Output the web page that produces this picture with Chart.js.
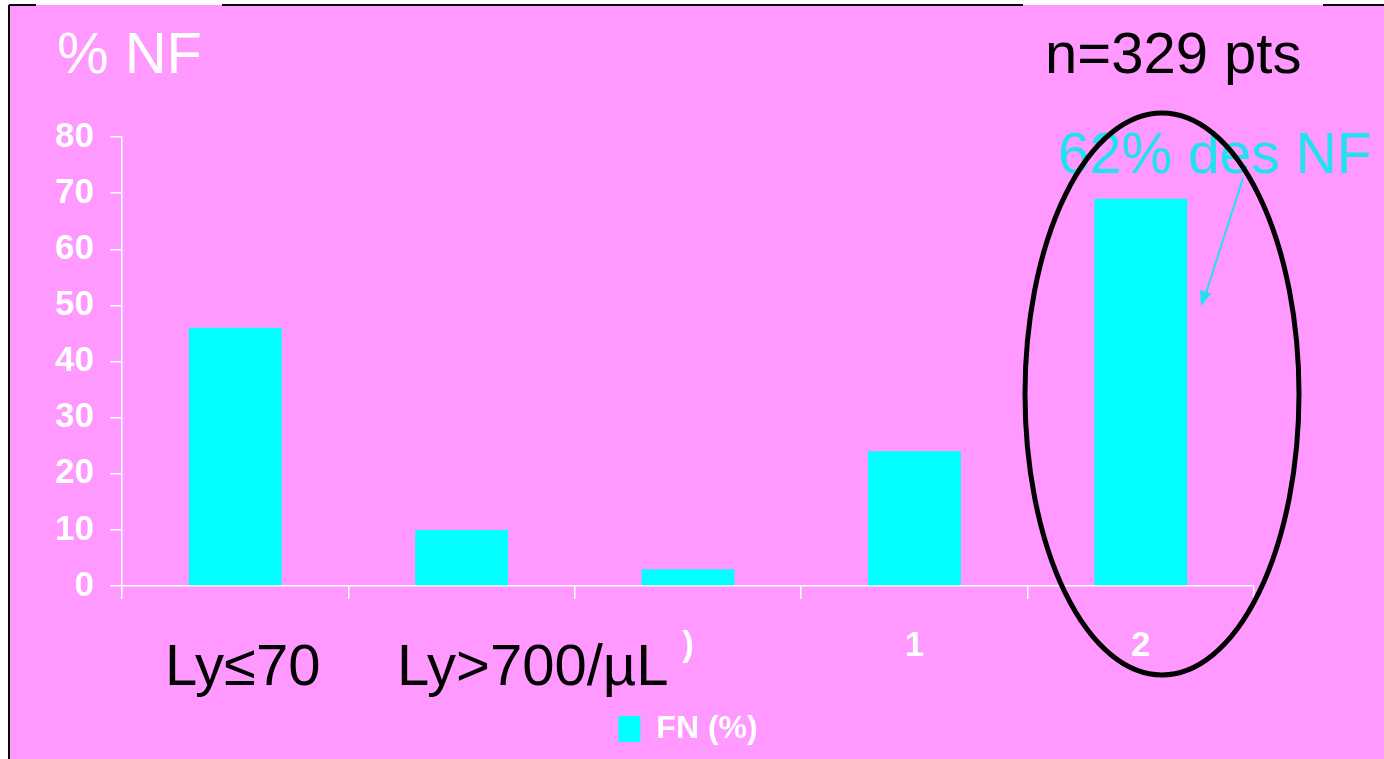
<!DOCTYPE html>
<html>
<head>
<meta charset="utf-8">
<script src="https://cdn.jsdelivr.net/npm/chart.js@4.4.1/dist/chart.umd.min.js"></script>
<style>
html, body { margin: 0; padding: 0; background: #fff; }
#wrap { width: 1384px; height: 759px; position: relative; }
</style>
</head>
<body>
<div id="wrap"><canvas id="chartNF"></canvas></div>
<script>
// donnees du graphique
const categories = ['', '', ')', '1', '2'];
const fnValues = [46, 10, 3, 24, 69];
const seriesName = 'FN (%)';
const yMin = 0;
const yMax = 80;
const yStep = 10;
const groupLabels = ['Ly\u226470', 'Ly>700/\u00b5L'];

const boldFont = "'Liberation Sans Narrow', 'Liberation Sans', Arial, sans-serif";
const plain = "'Liberation Sans', Arial, sans-serif";

Chart.defaults.maintainAspectRatio = false;
Chart.defaults.responsive = true;
Chart.defaults.animation = false;

// fond rose, cadre, textes et ellipse
const decor = {
    id: 'decor',
    beforeDraw(chart) {
        const c = chart.ctx;
        c.save();
        c.fillStyle = '#ffffff';
        c.fillRect(0, 0, chart.width, chart.height);
        c.fillStyle = '#ff99ff';
        c.fillRect(9, 5, chart.width - 9, chart.height - 5);
        c.strokeStyle = '#000';
        c.lineWidth = 2;
        c.beginPath();
        c.moveTo(9, 5);
        c.lineTo(9, chart.height);
        [[9, 36], [222, 1023], [1323, 1384]].forEach(([a, b]) => {
            c.moveTo(a, 5);
            c.lineTo(b, 5);
        });
        c.stroke();
        c.restore();
    },
    afterDraw(chart) {
        const c = chart.ctx;
        c.save();
        c.textBaseline = 'alphabetic';
        c.textAlign = 'left';

        c.font = '58px ' + plain;
        c.fillStyle = '#ffffff';
        c.fillText('% NF', 57, 73);
        c.fillStyle = '#000000';
        c.fillText('n=329 pts', 1045, 73);

        c.fillStyle = '#000000';
        c.fillText(groupLabels[0], 165, 685);
        c.fillText(groupLabels[1], 397, 685);

        c.font = '57px ' + plain;
        c.fillStyle = '#22e0f0';
        c.fillText('62% des NF', 1058, 173);

        // fleche
        c.strokeStyle = '#22e0f0';
        c.fillStyle = '#22e0f0';
        c.lineWidth = 2;
        c.beginPath();
        c.moveTo(1243, 178);
        c.lineTo(1205, 296);
        c.stroke();
        const ang = Math.atan2(306 - 178, 1201 - 1243);
        c.beginPath();
        c.moveTo(1201, 306);
        c.lineTo(1201 - 15 * Math.cos(ang) + 6 * Math.sin(ang), 306 - 15 * Math.sin(ang) - 6 * Math.cos(ang));
        c.lineTo(1201 - 15 * Math.cos(ang) - 6 * Math.sin(ang), 306 - 15 * Math.sin(ang) + 6 * Math.cos(ang));
        c.closePath();
        c.fill();

        // ellipse
        c.strokeStyle = '#000000';
        c.lineWidth = 5;
        c.beginPath();
        c.ellipse(1162, 394, 137, 281, 0, 0, Math.PI * 2);
        c.stroke();
        c.restore();
    }
};

const ctxNF = document.getElementById('chartNF');
new Chart(ctxNF, {
    type: 'bar',
    data: {
        labels: categories,
        datasets: [{
            label: seriesName,
            data: fnValues,
            backgroundColor: '#00ffff',
            borderWidth: 0,
            categoryPercentage: 1,
            barPercentage: 0.41
        }]
    },
    options: {
        layout: {
            padding: { top: 137, right: 130, bottom: 4, left: 0 }
        },
        plugins: {
            legend: {
                display: true,
                position: 'bottom',
                fullSize: false,
                labels: {
                    color: '#ffffff',
                    font: { family: boldFont, size: 32, weight: 'bold' },
                    boxWidth: 22,
                    boxHeight: 26,
                    padding: 10
                }
            },
            title: { display: false },
            tooltip: { enabled: false }
        },
        scales: {
            x: {
                afterFit: (s) => { s.height = 117; },
                grid: {
                    drawOnChartArea: false,
                    color: '#ffffff',
                    lineWidth: 1.5,
                    tickLength: 13
                },
                border: { color: '#ffffff', width: 1.5 },
                ticks: {
                    color: '#ffffff',
                    font: { family: boldFont, size: 35, weight: 'bold' },
                    padding: 26,
                    maxRotation: 0
                }
            },
            y: {
                min: yMin,
                max: yMax,
                afterFit: (s) => { s.width = 122; },
                grid: {
                    drawOnChartArea: false,
                    color: '#ffffff',
                    lineWidth: 1.5,
                    tickLength: 12
                },
                border: { color: '#ffffff', width: 1.5 },
                ticks: {
                    stepSize: yStep,
                    color: '#ffffff',
                    font: { family: boldFont, size: 35, weight: 'bold' },
                    padding: 16
                }
            }
        }
    },
    plugins: [decor]
});
</script>
</body>
</html>
